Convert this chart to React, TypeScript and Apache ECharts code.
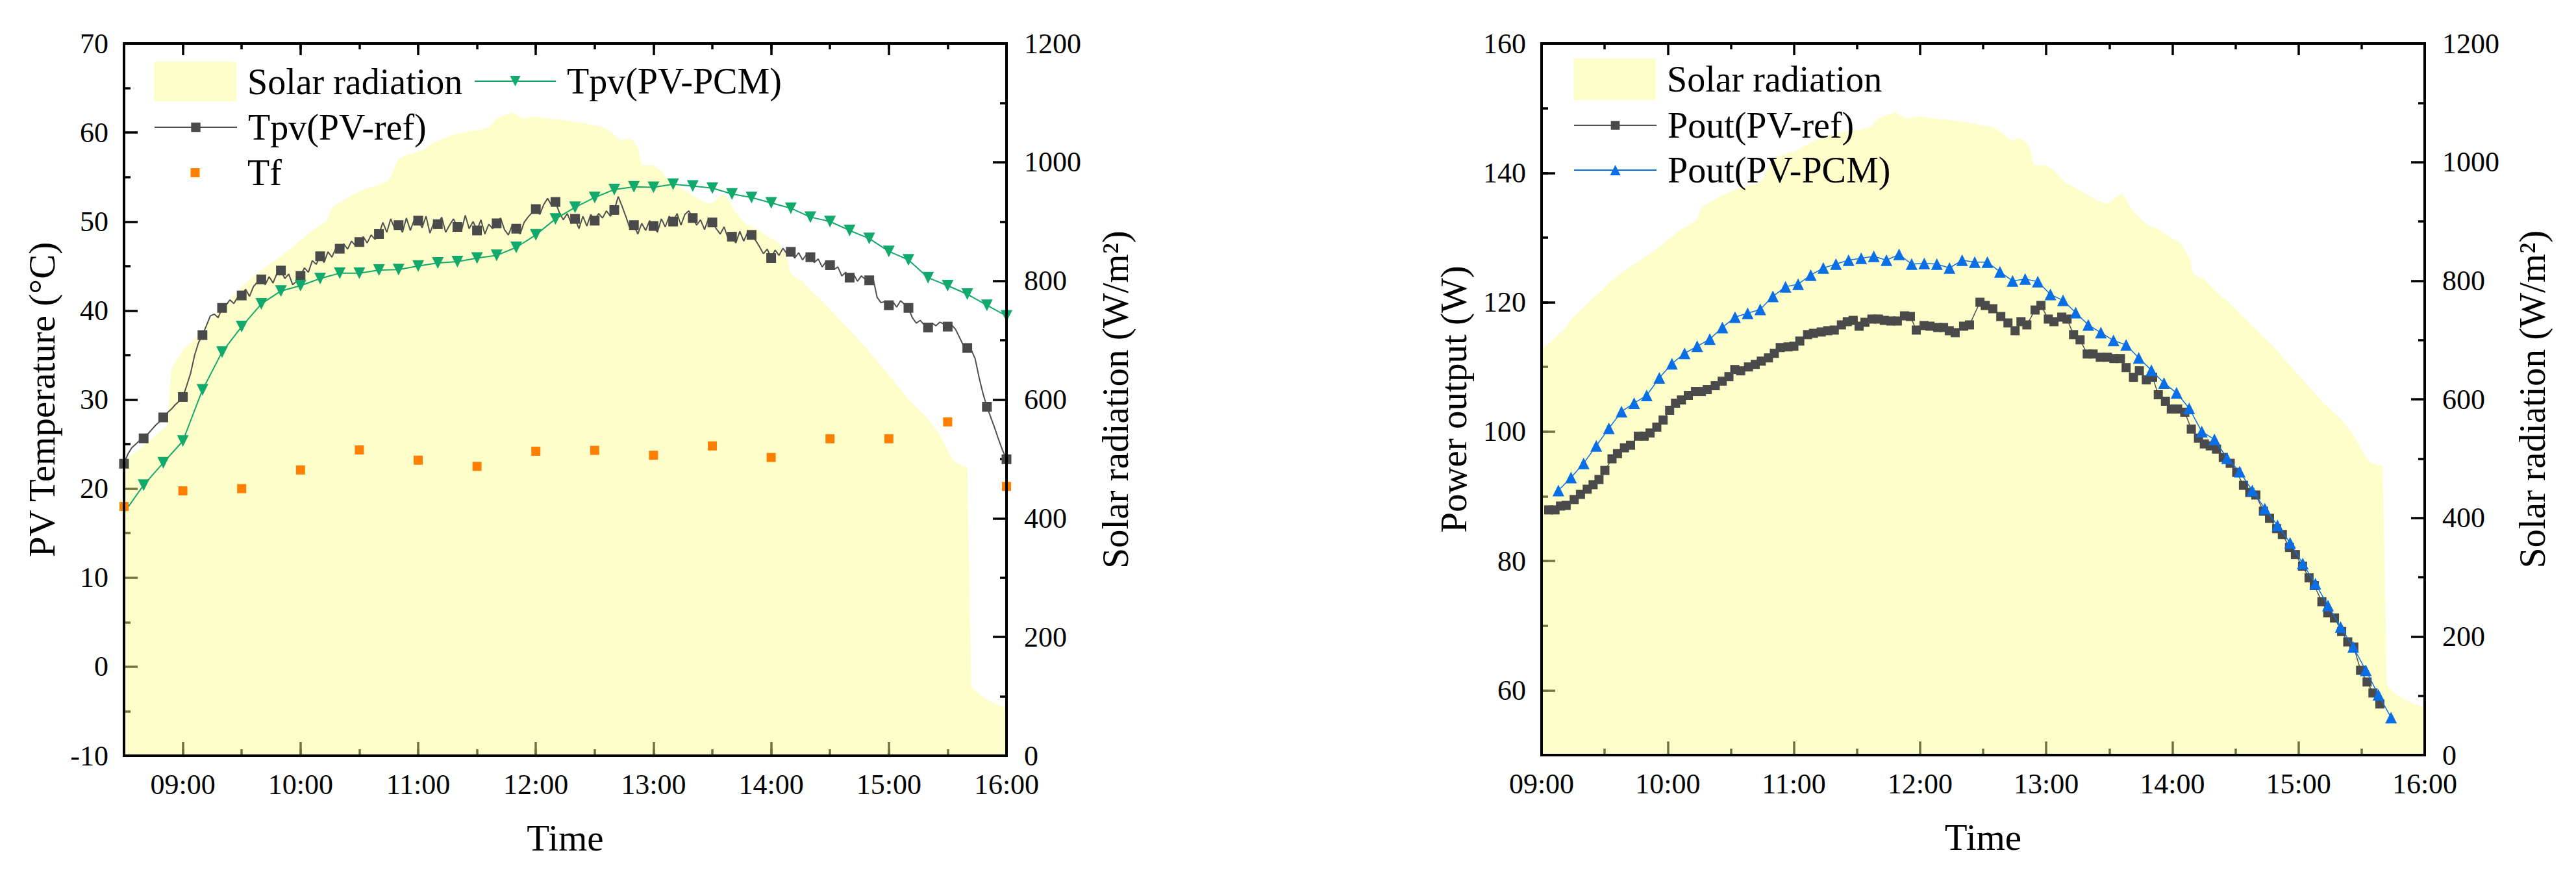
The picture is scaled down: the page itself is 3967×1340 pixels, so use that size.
import { useEffect, useRef } from 'react'
import * as echarts from 'echarts'

const FONT = 'Liberation Serif'

// logged samples every 2 minutes from 08:30 (times are minutes after midnight)
const LOG_START = 510
const LOG_STEP = 2

// solar radiation (W/m2), 08:30 … 16:00, one row = 10 minutes
const solarRadiation = [
  497, 502, 507, 512, 517,
  522, 528, 533, 539, 545,
  550, 556, 650, 662, 672,
  683, 690, 696, 702, 710,
  716, 724, 734, 741, 748,
  755, 762, 769, 776, 781,
  790, 796, 802, 808, 813,
  818, 823, 828, 832, 837,
  842, 847, 852, 857, 863,
  869, 874, 880, 885, 890,
  894, 898, 904, 924, 928,
  932, 936, 940, 944, 947,
  950, 953, 956, 958, 960,
  962, 964, 967, 975, 992,
  1005, 1009, 1012, 1014, 1016,
  1018, 1021, 1025, 1029, 1033,
  1036, 1039, 1041, 1044, 1046,
  1048, 1050, 1051, 1052, 1053,
  1054, 1055, 1057, 1059, 1066,
  1073, 1076, 1079, 1081, 1084,
  1080, 1076, 1074, 1075, 1076,
  1077, 1076, 1075, 1074, 1073,
  1072, 1072, 1071, 1070, 1069,
  1068, 1067, 1066, 1065, 1063,
  1062, 1061, 1059, 1056, 1052,
  1046, 1040, 1036, 1040, 1039,
  1035, 1025, 996, 994, 995,
  994, 990, 985, 976, 970,
  964, 960, 956, 952, 948,
  944, 940, 936, 933, 930,
  932, 937, 943, 946, 938,
  925, 915, 908, 900, 894,
  891, 889, 885, 880, 875,
  871, 868, 863, 852, 840,
  812, 807, 804, 800, 792,
  784, 778, 772, 766, 759,
  752, 745, 738, 731, 724,
  717, 710, 703, 696, 689,
  681, 673, 665, 657, 649,
  641, 633, 625, 617, 609,
  601, 594, 587, 580, 574,
  567, 559, 550, 540, 528,
  515, 502, 494, 491, 489,
  487, 118, 110, 104, 99,
  95, 91, 88, 85, 83,
  81
]

// Tpv(PV-ref) (°C), same 2-minute log
const tpvRef = [
  22.8, 23.9, 24.6, 25.0, 25.4,
  25.65, 26.1, 26.6, 27.1, 27.5,
  28.0, 28.5, 28.9, 29.4, 29.8,
  30.3, 31.6, 33.0, 35.0, 36.4,
  37.25, 38.3, 39.4, 39.6, 39.2,
  40.3, 40.6, 41.2, 40.8, 41.5,
  41.7, 42.4, 41.6, 42.7, 43.2,
  43.5, 42.9, 43.8, 43.1, 44.2,
  44.5, 43.6, 44.1, 42.9, 43.3,
  43.9, 44.8, 44.3, 45.6, 45.2,
  46.1, 45.4, 46.6, 46.0, 47.0,
  46.95, 47.5, 46.9, 47.8, 47.3,
  47.7, 48.3, 47.6, 48.5, 48.0,
  48.6, 49.9, 48.8, 50.3, 49.2,
  49.6, 48.8, 50.4, 49.0, 50.2,
  50.1, 49.3, 50.6, 48.7, 49.9,
  49.7, 50.5, 48.8, 49.6, 50.3,
  49.4, 48.9, 50.7, 49.2, 50.0,
  49.0, 50.2, 48.6, 49.7, 49.2,
  49.8, 50.4, 49.1, 48.5, 49.6,
  49.2, 48.6, 49.9, 50.5, 51.0,
  51.4, 50.8, 51.9, 52.6, 51.8,
  52.2, 51.0, 50.2, 50.9, 49.8,
  50.3, 49.2, 50.6, 49.5, 50.8,
  50.1, 50.9, 50.4, 51.2, 50.6,
  51.3, 52.8, 51.7, 50.5, 49.2,
  49.6, 48.6, 49.8, 49.0, 50.1,
  49.5, 48.8, 50.3, 49.4, 50.6,
  50.0, 50.9, 49.6, 50.8, 51.2,
  50.4, 49.6, 50.2, 49.1, 50.3,
  49.9, 49.2, 48.6, 49.4, 48.1,
  48.3, 47.6, 48.9, 47.8, 48.8,
  48.5, 47.9, 47.2, 46.4, 46.9,
  45.9, 46.8, 46.2, 47.0, 46.4,
  46.6, 45.9, 46.5, 45.7, 46.3,
  46.0, 45.4, 45.8, 44.9, 45.5,
  45.1, 44.6, 44.9, 43.9, 44.3,
  43.7, 44.1, 43.3, 43.9, 43.5,
  43.4, 43.6, 41.5, 40.9, 41.0,
  40.6, 41.0, 40.4, 41.1, 40.7,
  40.3, 39.2, 38.6, 38.9, 38.4,
  38.1, 38.6, 38.3, 38.7, 38.5,
  38.2, 38.4, 37.9, 37.0, 36.1,
  35.8, 35.6, 34.6, 32.5, 30.7,
  29.2, 28.0, 26.8, 25.5, 24.3,
  23.3
]

// Tpv(PV-PCM) every 10 minutes
const pcmTempTimes = [
  '08:30', '08:40', '08:50', '09:00', '09:10', '09:20', '09:30', '09:40', '09:50',
  '10:00', '10:10', '10:20', '10:30', '10:40', '10:50', '11:00', '11:10', '11:20',
  '11:30', '11:40', '11:50', '12:00', '12:10', '12:20', '12:30', '12:40', '12:50',
  '13:00', '13:10', '13:20', '13:30', '13:40', '13:50', '14:00', '14:10', '14:20',
  '14:30', '14:40', '14:50', '15:00', '15:10', '15:20', '15:30', '15:40', '15:50', '16:00'
]
const tpvPcm = [
  17.3, 20.4, 22.9, 25.35, 31.1, 35.35, 38.2, 40.75, 42.2,
  42.8, 43.6, 44.2, 44.2, 44.55, 44.6, 45.0, 45.35, 45.5,
  45.9, 46.2, 47.1, 48.5, 50.3, 51.6, 52.7, 53.6, 53.9,
  53.85, 54.2, 54.0, 53.75, 53.1, 52.7, 52.1, 51.5, 50.5,
  50.0, 49.0, 48.1, 46.65, 45.7, 43.7, 42.8, 41.85, 40.6, 39.4
]

// Tf every 30 minutes
const tfTimes = [
  '08:30', '09:00', '09:30', '10:00', '10:30', '11:00', '11:30', '12:00',
  '12:30', '13:00', '13:30', '14:00', '14:30', '15:00', '15:30', '16:00'
]
const tf = [
  18.0, 19.75, 20.0, 22.1, 24.35, 23.2, 22.5, 24.2,
  24.3, 23.75, 24.8, 23.5, 25.6, 25.6, 27.5, 20.25
]

// Pout(PV-ref): minutes after 09:00 and power (W)
const poutRefMinutes = [
  3.4, 6.4, 9.0, 11.7, 15.5, 18.5, 21.7, 24.5, 27.3, 30.1,
  33.5, 36.1, 39.4, 42.3, 46.0, 48.8, 51.6, 54.8, 57.8, 60.9,
  63.7, 66.5, 69.8, 73.2, 76.0, 78.8, 82.6, 85.9, 89.1, 91.9,
  94.7, 98.4, 101.6, 104.5, 107.9, 110.7, 113.5, 117.2, 120.0, 122.8,
  126.5, 129.3, 133.0, 136.1, 139.2, 142.6, 145.4, 148.2, 151.0, 153.8,
  157.1, 160.2, 163.0, 166.1, 169.2, 172.6, 175.4, 178.2, 181.9, 184.7,
  188.4, 191.2, 193.9, 196.7, 200.7, 203.5, 208.5, 211.0, 214.6, 218.4,
  221.8, 225.2, 228.0, 230.8, 234.7, 237.5, 241.0, 243.7, 247.4, 249.9,
  253.0, 256.1, 259.5, 262.3, 265.7, 269.1, 272.2, 275.3, 278.0, 281.5,
  284.3, 287.6, 290.6, 293.3, 296.7, 299.5, 302.5, 305.9, 309.0, 312.4,
  315.2, 318.0, 321.0, 324.2, 327.5, 330.6, 333.8, 336.8, 339.7, 343.3,
  346.2, 349.6, 352.3, 355.7, 358.5, 361.9, 365.0, 367.5, 371.1, 373.9,
  377.1, 380.5, 383.4, 386.3, 389.5, 392.6, 395.4, 398.7
]
const poutRef = [
  87.9, 87.9, 88.5, 88.6, 89.5, 90.3, 91.1, 91.8, 92.6, 94.0,
  95.8, 96.6, 97.5, 97.9, 99.3, 99.3, 99.8, 100.7, 101.8, 103.3,
  104.4, 104.9, 105.6, 106.2, 106.2, 106.5, 107.1, 107.8, 108.5, 109.6,
  109.4, 110.0, 110.4, 110.9, 111.4, 112.1, 113.0, 113.1, 113.2, 114.0,
  115.0, 115.2, 115.4, 115.6, 115.7, 116.5, 117.0, 117.2, 116.3, 116.9,
  117.4, 117.4, 117.2, 117.1, 117.1, 117.9, 117.8, 115.7, 116.4, 116.3,
  116.1, 116.1, 115.6, 115.3, 116.3, 116.5, 120.0, 119.5, 119.0, 117.8,
  116.8, 115.6, 117.0, 116.5, 118.8, 119.5, 117.4, 117.0, 117.7, 117.4,
  115.0, 114.2, 112.0, 112.0, 111.5, 111.5, 111.3, 111.3, 109.9, 108.4,
  109.4, 108.0, 108.4, 105.7, 104.7, 103.5, 103.5, 103.0, 100.4, 99.0,
  98.1, 97.8, 97.3, 96.0, 95.1, 93.7, 91.7, 90.6, 90.2, 87.7,
  86.6, 85.0, 84.1, 82.1, 81.0, 79.2, 77.4, 76.2, 73.7, 72.0,
  71.2, 69.1, 67.5, 66.7, 63.1, 61.3, 59.6, 57.9
]

// Pout(PV-PCM): every 6 minutes from 09:08
const PCM_POWER_START = 548
const PCM_POWER_STEP = 6
const poutPcm = [
  90.9, 92.9, 95.1, 97.8, 100.5, 103.1, 104.4, 105.6, 108.3, 110.5,
  112.1, 113.2, 114.3, 116.1, 117.7, 118.3, 118.9, 120.9, 122.4, 122.8,
  124.2, 125.3, 125.9, 126.5, 126.8, 127.1, 126.5, 127.4, 125.9, 126.0,
  125.9, 125.3, 126.5, 126.2, 126.2, 124.7, 123.3, 123.6, 123.2, 121.2,
  120.3, 118.4, 116.5, 115.3, 114.1, 113.4, 111.4, 109.5, 107.5, 106.0,
  103.6, 100.0, 98.8, 95.9, 93.8, 90.9, 88.1, 85.5, 82.8, 79.6,
  76.5, 73.1, 69.8, 66.7, 63.1, 59.3, 55.8
]

const leftHours = [540, 600, 660, 720, 780, 840, 900, 960]
const powerMajor = [60, 80, 100, 120, 140, 160]

const toMin = (s: string) => {
  const [h, m] = s.split(':').map(Number)
  return h * 60 + m
}
const fmtTime = (v: number) => {
  const h = Math.floor(v / 60)
  const m = Math.round(v % 60)
  return `${String(h).padStart(2, '0')}:${String(m).padStart(2, '0')}`
}
const plain = (v: number) => String(v)

const RAD_FILL = 'rgba(252, 252, 140, 0.45)'
const GRAY = '#4a4a4a'
const GREEN = '#12a96c'
const ORANGE = '#ff8000'
const BLUE = '#0a6fe6'

const axisText = { fontFamily: FONT, fontSize: 44, color: '#000' }
const nameText = { fontFamily: FONT, fontSize: 57, color: '#000' }
const legendText = { fontFamily: FONT, fontSize: 56, color: '#000', padding: [0, 0, 0, 12] }
const tickLine = { color: '#000', width: 3.5 }

function tickAxis(extra: any) {
  return {
    type: 'value',
    axisLine: { show: false, onZero: false },
    axisLabel: { show: false },
    splitLine: { show: false },
    ...extra,
    axisTick: { show: true, inside: true, lineStyle: tickLine, ...(extra.axisTick || {}) }
  }
}

export default function App() {
  const chartRef = useRef<HTMLDivElement>(null)

  useEffect(() => {
    if (!chartRef.current) return
    const chart = echarts.init(chartRef.current, null, { renderer: 'svg' })

    const radData = solarRadiation.map((v, i) => [LOG_START + i * LOG_STEP, v])
    // square marker on every 10th-minute sample only
    const refData = tpvRef.map((v, i) => {
      const p = [LOG_START + i * LOG_STEP, v]
      return i % 5 === 0 ? p : { value: p, symbol: 'none' }
    })
    const pcmData = tpvPcm.map((v, i) => {
      const p = [toMin(pcmTempTimes[i]), v]
      return i === 0 ? { value: p, symbol: 'none' } : p
    })
    const tfData = tf.map((v, i) => [toMin(tfTimes[i]), v])
    const poutRefData = poutRef.map((v, i) => [540 + poutRefMinutes[i], v])
    const poutPcmData = poutPcm.map((v, i) => [PCM_POWER_START + i * PCM_POWER_STEP, v])

    const option: any = {
      animation: false,
      backgroundColor: '#ffffff',
      textStyle: { fontFamily: FONT },
      grid: [
        { left: 191, top: 67, width: 1359, height: 1097, show: true, borderColor: '#000', borderWidth: 4, z: 10, outerBoundsMode: 'none' },
        { left: 2374, top: 67, width: 1360, height: 1096, show: true, borderColor: '#000', borderWidth: 4, z: 10, outerBoundsMode: 'none' }
      ],
      legend: [
        { left: 237, top: 95, padding: 0, itemWidth: 127, itemHeight: 61, textStyle: legendText,
          data: [{ name: 'Solar radiation', icon: 'rect', itemStyle: { color: RAD_FILL } }] },
        { left: 237, top: 168, padding: 0, itemWidth: 127, itemHeight: 18, textStyle: legendText, data: ['Tpv(PV-ref)'] },
        { left: 237, top: 238, padding: 0, itemWidth: 127, itemHeight: 17.5, textStyle: legendText, data: ['Tf'] },
        { left: 730, top: 97, padding: 0, itemWidth: 125, itemHeight: 20, textStyle: legendText, data: ['Tpv(PV-PCM)'] },
        { left: 2423, top: 90, padding: 0, itemWidth: 127, itemHeight: 64, textStyle: legendText,
          data: [{ name: 'Solar radiation', icon: 'rect', itemStyle: { color: RAD_FILL } }] },
        { left: 2423, top: 165, padding: 0, itemWidth: 127, itemHeight: 17, textStyle: legendText, data: ['Pout(PV-ref)'] },
        { left: 2423, top: 234, padding: 0, itemWidth: 127, itemHeight: 20, textStyle: legendText, data: ['Pout(PV-PCM)'] }
      ],
      xAxis: [
        // left chart
        tickAxis({
          gridIndex: 0, position: 'bottom', min: 510, max: 960, interval: 30,
          axisTick: { length: 21, customValues: leftHours },
          axisLabel: { show: true, customValues: leftHours, formatter: fmtTime, margin: 22, ...axisText },
          name: 'Time', nameLocation: 'middle', nameGap: 98, nameTextStyle: nameText, nameMoveOverlap: false
        }),
        tickAxis({ gridIndex: 0, position: 'bottom', min: 510, max: 960, interval: 30, axisTick: { length: 10 } }),
        tickAxis({ gridIndex: 0, position: 'top', min: 510, max: 960, interval: 30, axisTick: { length: 18, customValues: leftHours } }),
        tickAxis({ gridIndex: 0, position: 'top', min: 510, max: 960, interval: 30, axisTick: { length: 9 } }),
        // right chart
        tickAxis({
          gridIndex: 1, position: 'bottom', min: 540, max: 960, interval: 60,
          axisTick: { length: 21 },
          minorTick: { show: true, splitNumber: 2, length: 10, lineStyle: tickLine },
          axisLabel: { show: true, formatter: fmtTime, margin: 22, ...axisText },
          name: 'Time', nameLocation: 'middle', nameGap: 98, nameTextStyle: nameText, nameMoveOverlap: false
        }),
        tickAxis({
          gridIndex: 1, position: 'top', min: 540, max: 960, interval: 60,
          axisTick: { length: 18 },
          minorTick: { show: true, splitNumber: 2, length: 9, lineStyle: tickLine }
        })
      ],
      yAxis: [
        tickAxis({
          gridIndex: 0, position: 'left', min: -10, max: 70, interval: 10,
          axisTick: { length: 21 },
          minorTick: { show: true, splitNumber: 2, length: 10, lineStyle: tickLine },
          axisLabel: { show: true, margin: 24, formatter: plain, ...axisText },
          name: 'PV Temperature (°C)', nameLocation: 'middle', nameGap: 98, nameRotate: 90,
          nameTextStyle: nameText, nameMoveOverlap: false
        }),
        tickAxis({
          gridIndex: 0, position: 'right', min: 0, max: 1200, interval: 200,
          axisTick: { length: 21 },
          minorTick: { show: true, splitNumber: 2, length: 10, lineStyle: tickLine },
          axisLabel: { show: true, margin: 27, formatter: plain, ...axisText },
          name: 'Solar radiation (W/m²)', nameLocation: 'middle', nameGap: 139, nameRotate: 90,
          nameTextStyle: nameText, nameMoveOverlap: false
        }),
        tickAxis({
          gridIndex: 1, position: 'left', min: 50, max: 160, interval: 10,
          axisTick: { length: 21, customValues: powerMajor },
          axisLabel: { show: true, customValues: powerMajor, margin: 24, formatter: plain, ...axisText },
          name: 'Power output (W)', nameLocation: 'middle', nameGap: 107, nameRotate: 90,
          nameTextStyle: nameText, nameMoveOverlap: false
        }),
        tickAxis({ gridIndex: 1, position: 'left', min: 50, max: 160, interval: 10, axisTick: { length: 10 } }),
        tickAxis({
          gridIndex: 1, position: 'right', min: 0, max: 1200, interval: 200,
          axisTick: { length: 21 },
          minorTick: { show: true, splitNumber: 2, length: 10, lineStyle: tickLine },
          axisLabel: { show: true, margin: 27, formatter: plain, ...axisText },
          name: 'Solar radiation (W/m²)', nameLocation: 'middle', nameGap: 137, nameRotate: 90,
          nameTextStyle: nameText, nameMoveOverlap: false
        })
      ],
      series: [
        {
          name: 'Solar radiation', type: 'line', xAxisIndex: 0, yAxisIndex: 1, data: radData,
          symbol: 'none', lineStyle: { width: 0, opacity: 0 },
          areaStyle: { color: RAD_FILL, opacity: 1 }, itemStyle: { color: RAD_FILL }, z: 2
        },
        {
          name: 'Tpv(PV-ref)', type: 'line', xAxisIndex: 0, yAxisIndex: 0, data: refData,
          symbol: 'rect', symbolSize: 15, showAllSymbol: true,
          lineStyle: { color: '#505050', width: 2 }, itemStyle: { color: GRAY }, z: 3
        },
        {
          name: 'Tpv(PV-PCM)', type: 'line', xAxisIndex: 0, yAxisIndex: 0, data: pcmData,
          symbol: 'triangle', symbolRotate: 180, symbolSize: 18, showAllSymbol: true,
          lineStyle: { color: GREEN, width: 2 }, itemStyle: { color: GREEN }, z: 4
        },
        {
          // points only: the connecting line is hidden
          name: 'Tf', type: 'line', xAxisIndex: 0, yAxisIndex: 0, data: tfData,
          symbol: 'rect', symbolSize: 14, showAllSymbol: true,
          lineStyle: { width: 0, opacity: 0 }, itemStyle: { color: ORANGE }, z: 4
        },
        {
          name: 'Solar radiation', type: 'line', xAxisIndex: 4, yAxisIndex: 4, data: radData,
          symbol: 'none', lineStyle: { width: 0, opacity: 0 },
          areaStyle: { color: RAD_FILL, opacity: 1 }, itemStyle: { color: RAD_FILL }, z: 2
        },
        {
          name: 'Pout(PV-ref)', type: 'line', xAxisIndex: 4, yAxisIndex: 2, data: poutRefData,
          symbol: 'rect', symbolSize: 14, showAllSymbol: true,
          lineStyle: { color: '#505050', width: 1.5 }, itemStyle: { color: GRAY }, z: 3
        },
        {
          name: 'Pout(PV-PCM)', type: 'line', xAxisIndex: 4, yAxisIndex: 2, data: poutPcmData,
          symbol: 'triangle', symbolSize: 18, showAllSymbol: true,
          lineStyle: { color: BLUE, width: 1.5 }, itemStyle: { color: BLUE }, z: 4
        }
      ]
    }

    chart.setOption(option)
    return () => {
      chart.dispose()
    }
  }, [])

  return (
    <div
      ref={chartRef}
      style={{ position: 'absolute', left: 0, top: 0, width: 3967, height: 1340 }}
    />
  )
}
